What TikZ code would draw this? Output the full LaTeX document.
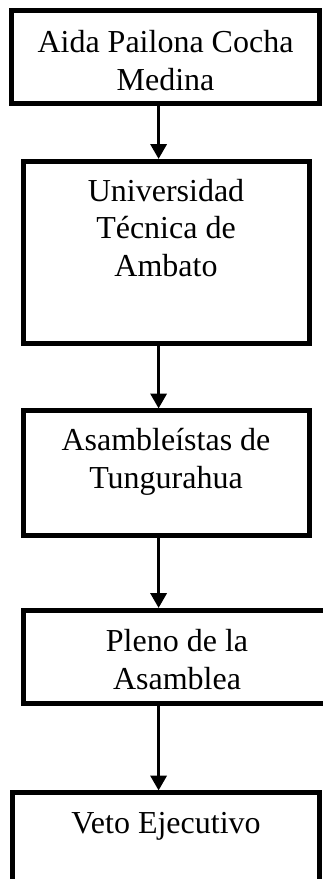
\documentclass[tikz,border=0pt]{standalone}
\usepackage{fontspec}
\setmainfont{Liberation Serif}
\usetikzlibrary{arrows.meta}
\begin{document}
\begin{tikzpicture}[x=1pt,y=-1pt,
  box/.style={draw, line width=5pt, rectangle, inner sep=0pt, outer sep=0pt},
  lbl/.style={font=\fontsize{32}{37.5}\selectfont, align=center, anchor=base, inner sep=0pt},
  arr/.style={line width=3.5pt, -{Triangle[length=15pt,width=16pt]}, shorten >=2pt}]
\useasboundingbox (0,0) rectangle (322,879);
% boxes
\node[box, minimum width=307.5pt, minimum height=92.5pt] (b1) at (165.25,56.75) {};
\node[box, minimum width=285.5pt, minimum height=182pt] (b2) at (166.25,252) {};
\node[box, minimum width=285.5pt, minimum height=124.5pt] (b3) at (166.25,472.75) {};
\node[box, minimum width=307.5pt, minimum height=93pt] (b4) at (177.25,656.5) {};
\node[box, minimum width=307.5pt, minimum height=107.5pt] (b5) at (165.75,846.25) {};
% labels (base anchor = baseline of the last line)
\node[lbl] (t1) at (165.5,90) {Aida Pailona Cocha\\Medina};
\node[lbl] (t2) at (166,276) {Universidad\\Técnica de\\Ambato};
\node[lbl] (t3) at (166,488) {Asambleístas de\\Tungurahua};
\node[lbl] (t4) at (177,689) {Pleno de la\\Asamblea};
\node[lbl] (t5) at (166,833) {Veto Ejecutivo};
% connectors
\coordinate (ax) at (158.6,0);
\draw[arr] (b1.south -| ax) -- (b2.north -| ax);
\draw[arr] (b2.south -| ax) -- (b3.north -| ax);
\draw[arr] (b3.south -| ax) -- (b4.north -| ax);
\draw[arr] (b4.south -| ax) -- (b5.north -| ax);
\end{tikzpicture}
\end{document}
